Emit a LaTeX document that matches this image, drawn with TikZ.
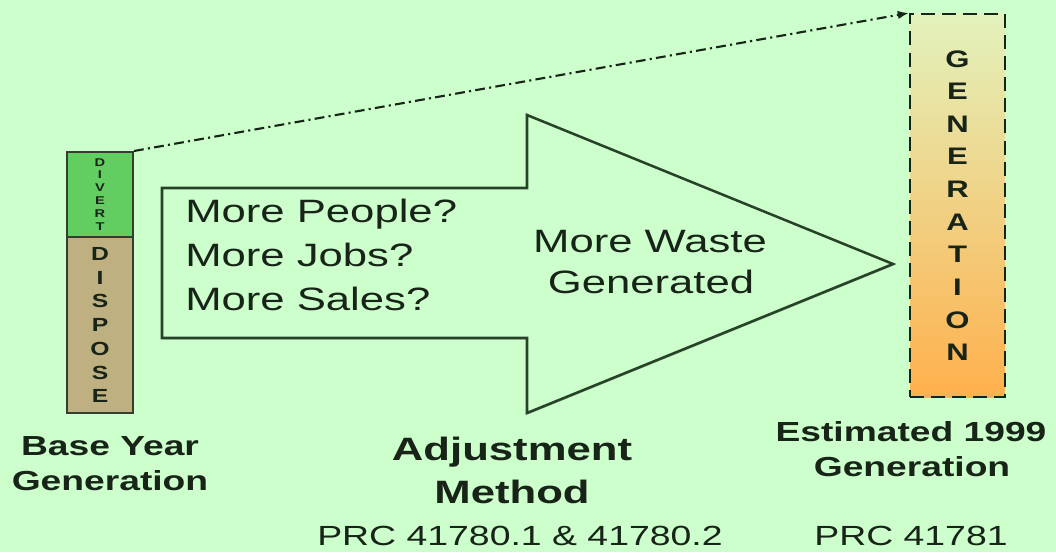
\documentclass[tikz,border=0pt]{standalone}
\usepackage{fontspec}
\setmainfont{Liberation Sans}[FakeStretch=1.35]
\newfontfamily\stackfont{Liberation Sans}[FakeStretch=1.3]
\usepackage{tikz}
\usetikzlibrary{positioning, arrows.meta, shadows}

\definecolor{mint}{RGB}{204,255,204}
\definecolor{ink}{RGB}{24,36,24}
\definecolor{arrowline}{RGB}{40,66,40}
\definecolor{barline}{RGB}{52,62,48}
\definecolor{divertgreen}{RGB}{98,206,98}
\definecolor{disposetan}{RGB}{190,176,128}
\definecolor{genpale}{RGB}{226,242,188}
\definecolor{genmid}{RGB}{250,204,120}
\definecolor{genorange}{RGB}{255,176,76}

\begin{document}
\begin{tikzpicture}[
    x=0.025cm, y=-0.025cm,
    bar/.style={rectangle, draw=barline, line width=1.4pt, minimum width=1.65cm, inner sep=0pt, align=center, text=ink},
    ask/.style={anchor=base west, inner sep=0pt, text=ink, font=\fontsize{23}{27}\selectfont},
    says/.style={anchor=base, inner sep=0pt, text=ink, font=\fontsize{23}{27}\selectfont},
    caption/.style={anchor=base, inner sep=0pt, text=ink, font=\bfseries\fontsize{19.6}{23}\selectfont},
    heading/.style={anchor=base, inner sep=0pt, text=ink, font=\bfseries\fontsize{23}{27}\selectfont},
    statute/.style={anchor=base, inner sep=0pt, text=ink, font=\fontsize{19.7}{23}\selectfont},
    bigarrow/.style={draw=arrowline, line width=1.8pt, line join=miter, fill=mint,
        drop shadow={shadow xshift=0.9pt, shadow yshift=-0.9pt, fill=black, opacity=0.3}},
    link/.style={-{Latex[length=8pt, width=6pt]}, line width=1.5pt, draw=ink, dash pattern=on 7pt off 3pt on 1.5pt off 3pt}
]
    % page
    \fill[mint] (0,0) rectangle (1056,552);
    \useasboundingbox (0,0) rectangle (1056,552);

    % the big arrow
    \draw[bigarrow] (162,188) -- (527,188) -- (527,115) -- (893,264) -- (527,413) -- (527,338) -- (162,338) -- cycle;
    \node[ask] (people) at (185,222) {More People?};
    \node[ask] (jobs) at (185,266) {More Jobs?};
    \node[ask] (sales) at (185,310) {More Sales?};
    \node[says] (waste) at (650,252) {More Waste};
    \node[says] (generated) at (651,293) {Generated};

    % base year column
    \node[bar, fill=divertgreen, minimum height=2.125cm, font=\stackfont\bfseries\fontsize{8}{9.2}\selectfont] (divert) at (100,194.5) {D\\I\\V\\E\\R\\T};
    \node[bar, fill=disposetan, minimum height=4.4cm, font=\stackfont\bfseries\fontsize{13.5}{16.9}\selectfont] (dispose) at (100,325) {D\\I\\S\\P\\O\\S\\E};

    % estimated generation column
    \node[rectangle, draw=ink, line width=1.4pt, dash pattern=on 10pt off 5pt, inner sep=0pt,
        minimum width=2.375cm, minimum height=9.575cm, align=center, text=ink,
        top color=genpale, middle color=genmid, bottom color=genorange,
        font=\stackfont\bfseries\fontsize{17}{23.2}\selectfont] (gen) at (957.5,205.5) {G\\E\\N\\E\\R\\A\\T\\I\\O\\N};

    \draw[link] (divert.north east) -- (gen.north west);

    % captions
    \node[caption] (base1) at (110,455) {Base Year};
    \node[caption] (base2) at (110,490) {Generation};
    \node[heading] (adj1) at (512,460) {Adjustment};
    \node[heading] (adj2) at (512,503) {Method};
    \node[statute] (adjprc) at (520,545) {PRC 41780.1 \& 41780.2};
    \node[caption] (est1) at (911,441) {Estimated 1999};
    \node[caption] (est2) at (912,476) {Generation};
    \node[statute] (estprc) at (911,545) {PRC 41781};
\end{tikzpicture}
\end{document}
